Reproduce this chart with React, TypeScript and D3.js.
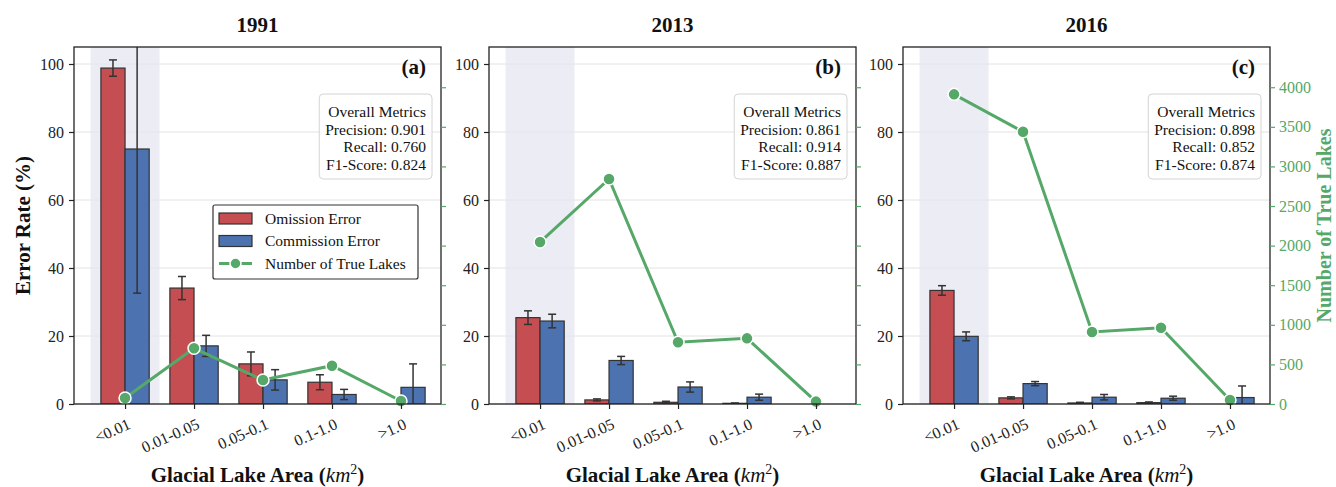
import { useRef, useEffect } from "react";
import * as d3 from "d3";

const categories = ["<0.01", "0.01-0.05", "0.05-0.1", "0.1-1.0", ">1.0"];
const years = ["1991", "2013", "2016"];
const panelTags = ["(a)", "(b)", "(c)"];

// error rates (%) and their error bars
const omission1991 = [98.8, 34.1, 11.8, 6.4, 0];
const omissionErr1991 = [2.4, 3.4, 3.5, 2.2, 0];
const commission1991 = [75.0, 17.1, 7.1, 2.8, 4.9];
const commissionErr1991 = [42.4, 3.1, 3.0, 1.5, 6.9];
const lakes1991 = [76, 703, 303, 484, 38];

const omission2013 = [25.4, 1.2, 0.5, 0.2, 0];
const omissionErr2013 = [2.0, 0.3, 0.3, 0.1, 0];
const commission2013 = [24.4, 12.8, 5.0, 2.0, 0];
const commissionErr2013 = [2.0, 1.2, 1.5, 0.9, 0];
const lakes2013 = [2045, 2841, 779, 829, 30];

const omission2016 = [33.4, 1.8, 0.3, 0.4, 0];
const omissionErr2016 = [1.4, 0.3, 0.2, 0.2, 0];
const commission2016 = [19.9, 6.0, 2.0, 1.7, 1.9];
const commissionErr2016 = [1.3, 0.6, 0.8, 0.6, 3.4];
const lakes2016 = [3910, 3438, 909, 963, 50];

const precision = [0.901, 0.861, 0.898];
const recall = [0.76, 0.914, 0.852];
const f1 = [0.824, 0.887, 0.874];

const errorTicks = [0, 20, 40, 60, 80, 100];
const lakeTicks = [0, 500, 1000, 1500, 2000, 2500, 3000, 3500, 4000];

const width = 1336;
const height = 487;
const top = 47;
const bottom = 404;
const panelLeft = [74, 489, 903];
const panelWidth = 367;

const red = "#c44e52";
const blue = "#4c72b0";
const green = "#55a868";
const edge = "#333333";
const font = '"Liberation Serif", "Times New Roman", serif';

const App = () => {
  const svgRef = useRef(null);

  useEffect(() => {
    document.body.style.margin = "0";
    const svg = d3.select(svgRef.current);
    svg.selectAll("*").remove();
    svg.attr("width", width).attr("height", height).style("font-family", font);

    const panels = [
      { om: omission1991, omE: omissionErr1991, cm: commission1991, cmE: commissionErr1991, lakes: lakes1991 },
      { om: omission2013, omE: omissionErr2013, cm: commission2013, cmE: commissionErr2013, lakes: lakes2013 },
      { om: omission2016, omE: omissionErr2016, cm: commission2016, cmE: commissionErr2016, lakes: lakes2016 },
    ];

    panels.forEach((p, pi) => {
      const left = panelLeft[pi];
      const right = left + panelWidth;
      const x = d3.scaleLinear().domain([-0.74, 4.58]).range([left, right]);
      const y = d3.scaleLinear().domain([0, 105]).range([bottom, top]);
      const y2 = d3.scaleLinear().domain([0, 4508]).range([bottom, top]);
      const bw = x(0.35) - x(0);
      const g = svg.append("g");

      const clipId = `clip-${pi}`;
      svg
        .append("clipPath")
        .attr("id", clipId)
        .append("rect")
        .attr("x", left)
        .attr("y", top)
        .attr("width", panelWidth)
        .attr("height", bottom - top);

      // grid
      g.selectAll(".grid")
        .data(errorTicks)
        .enter()
        .append("line")
        .attr("x1", left)
        .attr("x2", right)
        .attr("y1", (d) => y(d))
        .attr("y2", (d) => y(d))
        .attr("stroke", "#e2e2e2")
        .attr("stroke-width", 1);

      // shaded first category
      g.append("rect")
        .attr("x", x(-0.5))
        .attr("y", top)
        .attr("width", x(0.5) - x(-0.5))
        .attr("height", bottom - top)
        .attr("fill", "#e6e6f0")
        .attr("opacity", 0.75);

      const plot = g.append("g").attr("clip-path", `url(#${clipId})`);

      const series = [
        { vals: p.om, errs: p.omE, off: -0.175, color: red },
        { vals: p.cm, errs: p.cmE, off: 0.175, color: blue },
      ];

      series.forEach((s) => {
        plot
          .selectAll(null)
          .data(s.vals.map((v, i) => ({ v, i, e: s.errs[i] })).filter((d) => d.v > 0))
          .enter()
          .append("rect")
          .attr("x", (d) => x(d.i + s.off) - bw / 2)
          .attr("y", (d) => y(d.v))
          .attr("width", bw)
          .attr("height", (d) => bottom - y(d.v))
          .attr("fill", s.color)
          .attr("stroke", edge)
          .attr("stroke-width", 1.2);
      });

      series.forEach((s) => {
        const eb = plot
          .selectAll(null)
          .data(s.vals.map((v, i) => ({ v, i, e: s.errs[i] })).filter((d) => d.e > 0))
          .enter()
          .append("g")
          .attr("stroke", edge)
          .attr("stroke-width", 1.5);
        eb.append("line")
          .attr("x1", (d) => x(d.i + s.off))
          .attr("x2", (d) => x(d.i + s.off))
          .attr("y1", (d) => y(d.v - d.e))
          .attr("y2", (d) => y(d.v + d.e));
        [1, -1].forEach((sign) => {
          eb.append("line")
            .attr("x1", (d) => x(d.i + s.off) - 4)
            .attr("x2", (d) => x(d.i + s.off) + 4)
            .attr("y1", (d) => y(d.v + sign * d.e))
            .attr("y2", (d) => y(d.v + sign * d.e));
        });
      });

      // number of true lakes
      const line = d3
        .line()
        .x((d, i) => x(i))
        .y((d) => y2(d));
      g.append("path")
        .attr("d", line(p.lakes))
        .attr("fill", "none")
        .attr("stroke", green)
        .attr("stroke-width", 3);
      g.selectAll(null)
        .data(p.lakes)
        .enter()
        .append("circle")
        .attr("cx", (d, i) => x(i))
        .attr("cy", (d) => y2(d))
        .attr("r", 6)
        .attr("fill", green)
        .attr("stroke", "#ffffff")
        .attr("stroke-width", 1.5);

      // frame
      g.append("rect")
        .attr("x", left)
        .attr("y", top)
        .attr("width", panelWidth)
        .attr("height", bottom - top)
        .attr("fill", "none")
        .attr("stroke", "#222")
        .attr("stroke-width", 1.3);

      // left axis
      const ay = g
        .append("g")
        .attr("transform", `translate(${left},0)`)
        .call(d3.axisLeft(y).tickValues(errorTicks).tickSize(5).tickPadding(5));
      ay.select(".domain").remove();
      ay.selectAll("line").attr("stroke", "#222").attr("stroke-width", 1.2);
      ay.selectAll("text").attr("font-size", 16).attr("fill", "#222").style("font-family", font);

      // right axis (lakes)
      const ar = g
        .append("g")
        .attr("transform", `translate(${right},0)`)
        .call(
          d3
            .axisRight(y2)
            .tickValues(lakeTicks)
            .tickSize(5)
            .tickPadding(4)
            .tickFormat((d) => (pi === 2 ? String(d) : ""))
        );
      ar.select(".domain").remove();
      ar.selectAll("line").attr("stroke", green).attr("stroke-width", 1.2);
      ar.selectAll("text").attr("font-size", 16).attr("fill", green).style("font-family", font);

      // bottom axis
      const ax = g
        .append("g")
        .attr("transform", `translate(0,${bottom})`)
        .call(
          d3
            .axisBottom(x)
            .tickValues([0, 1, 2, 3, 4])
            .tickSize(5)
            .tickFormat((d) => categories[d])
        );
      ax.select(".domain").remove();
      ax.selectAll("line").attr("stroke", "#222").attr("stroke-width", 1.2);
      ax.selectAll("text")
        .attr("font-size", 16)
        .attr("fill", "#222")
        .style("font-family", font)
        .attr("text-anchor", "end")
        .attr("dy", null)
        .attr("y", 0)
        .attr("transform", "translate(6,24) rotate(-24)");

      // titles
      g.append("text")
        .attr("x", (left + right) / 2)
        .attr("y", 32)
        .attr("text-anchor", "middle")
        .attr("font-size", 21)
        .attr("font-weight", "bold")
        .attr("fill", "#111")
        .text(years[pi]);

      g.append("text")
        .attr("x", right - 15)
        .attr("y", 74)
        .attr("text-anchor", "end")
        .attr("font-size", 21)
        .attr("font-weight", "bold")
        .attr("fill", "#111")
        .text(panelTags[pi]);

      const xl = g
        .append("text")
        .attr("x", (left + right) / 2)
        .attr("y", 482)
        .attr("text-anchor", "middle")
        .attr("font-size", 21)
        .attr("font-weight", "bold")
        .attr("fill", "#111");
      xl.append("tspan").text("Glacial Lake Area (");
      xl.append("tspan").attr("font-style", "italic").attr("font-weight", "normal").text("km");
      xl.append("tspan").attr("font-size", 14).attr("font-weight", "normal").attr("dy", -8).text("2");
      xl.append("tspan").attr("dy", 8).text(")");

      // metrics box
      const lines = [
        "Overall Metrics",
        `Precision: ${precision[pi].toFixed(3)}`,
        `Recall: ${recall[pi].toFixed(3)}`,
        `F1-Score: ${f1[pi].toFixed(3)}`,
      ];
      const mb = g.append("g");
      const box = mb.append("rect");
      const texts = mb
        .selectAll(null)
        .data(lines)
        .enter()
        .append("text")
        .attr("x", right - 15)
        .attr("y", (d, i) => 117 + i * 17.6)
        .attr("text-anchor", "end")
        .attr("font-size", 15.5)
        .attr("fill", "#111")
        .text((d) => d);
      let maxW = 0;
      texts.each(function () {
        maxW = Math.max(maxW, this.getComputedTextLength());
      });
      box
        .attr("x", right - 15 - maxW - 6)
        .attr("y", 94)
        .attr("width", maxW + 12)
        .attr("height", 85)
        .attr("rx", 4)
        .attr("fill", "#ffffff")
        .attr("fill-opacity", 0.85)
        .attr("stroke", "#d4d4d4")
        .attr("stroke-width", 1);

      // legend (first panel only)
      if (pi === 0) {
        const lg = g.append("g");
        lg.append("rect")
          .attr("x", 213)
          .attr("y", 205)
          .attr("width", 205)
          .attr("height", 74)
          .attr("rx", 2)
          .attr("fill", "#ffffff")
          .attr("stroke", "#333")
          .attr("stroke-width", 1.2);
        const items = [
          { label: "Omission Error", color: red, kind: "bar" },
          { label: "Commission Error", color: blue, kind: "bar" },
          { label: "Number of True Lakes", color: green, kind: "line" },
        ];
        items.forEach((it, i) => {
          const cy = 218.5 + i * 22.5;
          if (it.kind === "bar") {
            lg.append("rect")
              .attr("x", 219)
              .attr("y", cy - 5.5)
              .attr("width", 33)
              .attr("height", 11)
              .attr("fill", it.color)
              .attr("stroke", edge)
              .attr("stroke-width", 1.2);
          } else {
            lg.append("line")
              .attr("x1", 219)
              .attr("x2", 252)
              .attr("y1", cy)
              .attr("y2", cy)
              .attr("stroke", green)
              .attr("stroke-width", 3);
            lg.append("circle")
              .attr("cx", 235.5)
              .attr("cy", cy)
              .attr("r", 5.5)
              .attr("fill", green)
              .attr("stroke", "#fff")
              .attr("stroke-width", 1.5);
          }
          lg.append("text")
            .attr("x", 265)
            .attr("y", cy + 5)
            .attr("font-size", 15.5)
            .attr("fill", "#111")
            .text(it.label);
        });
      }
    });

    // y labels
    svg
      .append("text")
      .attr("transform", `translate(30,${(top + bottom) / 2}) rotate(-90)`)
      .attr("text-anchor", "middle")
      .attr("font-size", 21)
      .attr("font-weight", "bold")
      .attr("fill", "#111")
      .text("Error Rate (%)");

    svg
      .append("text")
      .attr("transform", `translate(1331,${(top + bottom) / 2}) rotate(-90)`)
      .attr("text-anchor", "middle")
      .attr("font-size", 20)
      .attr("font-weight", "bold")
      .attr("fill", green)
      .text("Number of True Lakes");
  }, []);

  return <svg ref={svgRef}></svg>;
};

export default App;
